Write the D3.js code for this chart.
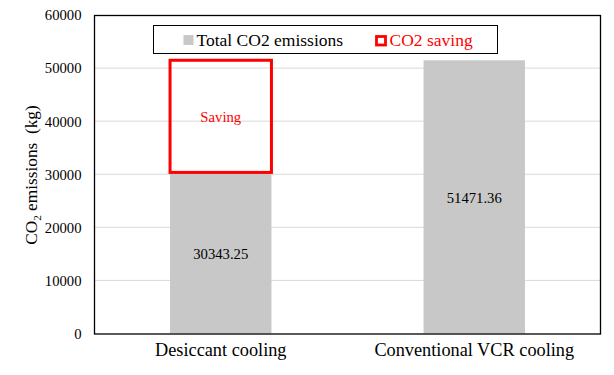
<!DOCTYPE html>
<html><head><meta charset="utf-8">
<script src="https://cdn.jsdelivr.net/npm/d3@7"></script>
<style>body{margin:0;background:#fff}svg{display:block}</style>
</head><body>
<svg id="c" width="614" height="375"></svg>
<script>
const categories = ["Desiccant cooling", "Conventional VCR cooling"];
const totalEmissions = [30343.25, 51471.36];
const yTicks = [0, 10000, 20000, 30000, 40000, 50000, 60000];
const legendLabels = ["Total CO2 emissions", "CO2 saving"];
const savingLabel = "Saving";

const FONT = "'Liberation Serif', 'Times New Roman', serif";
const svg = d3.select("#c");
const m = {l: 94, r: 13, t: 15, b: 41.5};
const W = 614, H = 375;
const x = d3.scaleBand().domain(categories).range([m.l, W - m.r]).paddingInner(0.6).paddingOuter(0.3);
const y = d3.scaleLinear().domain([0, 60000]).range([H - m.b, m.t]);

svg.append("g").selectAll("line").data(yTicks.slice(1, -1)).join("line")
  .attr("x1", m.l).attr("x2", W - m.r).attr("y1", d => y(d)).attr("y2", d => y(d))
  .attr("stroke", "#d9d9d9").attr("stroke-width", 1);

svg.append("g").selectAll("rect").data(categories).join("rect")
  .attr("x", d => x(d)).attr("width", x.bandwidth())
  .attr("y", (d, i) => y(totalEmissions[i])).attr("height", (d, i) => y(0) - y(totalEmissions[i]))
  .attr("fill", "#c8c8c8");

const saving = totalEmissions[1] - totalEmissions[0];
svg.append("rect")
  .attr("x", x(categories[0])).attr("width", x.bandwidth())
  .attr("y", y(totalEmissions[0] + saving)).attr("height", y(totalEmissions[0]) - y(totalEmissions[0] + saving))
  .attr("fill", "none").attr("stroke", "#ff0000").attr("stroke-width", 3);

svg.append("text").attr("x", x(categories[0]) + x.bandwidth() / 2)
  .attr("y", y(totalEmissions[0] + saving / 2) + 6)
  .attr("text-anchor", "middle").attr("font-size", 14.7).style("font-family", FONT)
  .attr("fill", "#ff0000").text(savingLabel);

svg.append("g").selectAll("text").data(categories).join("text")
  .attr("x", d => x(d) + x.bandwidth() / 2)
  .attr("y", (d, i) => y(totalEmissions[i] / 2) + 6.5)
  .attr("text-anchor", "middle").attr("font-size", 14.7).style("font-family", FONT).attr("fill", "#000")
  .text((d, i) => totalEmissions[i].toFixed(2));

svg.append("rect").attr("x", m.l + 0.5).attr("y", m.t + 0.5)
  .attr("width", W - m.r - m.l - 1).attr("height", H - m.b - m.t)
  .attr("fill", "none").attr("stroke", "#000").attr("stroke-width", 1.3);

const ya = svg.append("g").attr("transform", `translate(${m.l},0)`)
  .call(d3.axisLeft(y).tickValues(yTicks).tickSize(0).tickPadding(12.5).tickFormat(d3.format("d")));
ya.select(".domain").remove();
ya.selectAll("text").attr("font-size", 14.7).style("font-family", FONT).attr("fill", "#000").attr("dy", "0.33em");

const xa = svg.append("g").attr("transform", `translate(0,${H - m.b})`)
  .call(d3.axisBottom(x).tickSize(0).tickPadding(10));
xa.select(".domain").remove();
xa.selectAll("text").attr("font-size", 18.3).style("font-family", FONT).attr("fill", "#000");

const yt = svg.append("text").attr("transform", "translate(36.5,175) rotate(-90)")
  .attr("text-anchor", "middle").attr("font-size", 17.3).style("font-family", FONT).attr("fill", "#000");
yt.append("tspan").text("CO");
yt.append("tspan").attr("font-size", 11).attr("dy", 4).text("2");
yt.append("tspan").attr("dy", -4).text(" emissions\u00a0 (kg)");

const lg = svg.append("g");
lg.append("rect").attr("x", 153.5).attr("y", 25.5).attr("width", 344).attr("height", 28)
  .attr("fill", "#fff").attr("stroke", "#000").attr("stroke-width", 1);
lg.append("rect").attr("x", 183.5).attr("y", 35).attr("width", 10).attr("height", 10).attr("fill", "#c8c8c8");
lg.append("text").attr("x", 196.5).attr("y", 46).attr("font-size", 17.5).style("font-family", FONT)
  .attr("fill", "#000").text(legendLabels[0]);
lg.append("rect").attr("x", 376.5).attr("y", 36.5).attr("width", 9).attr("height", 8.5)
  .attr("fill", "#fff").attr("stroke", "#ff0000").attr("stroke-width", 2.8);
lg.append("text").attr("x", 389.5).attr("y", 46).attr("font-size", 17.5).style("font-family", FONT)
  .attr("fill", "#ff0000").text(legendLabels[1]);
</script>
</body></html>
